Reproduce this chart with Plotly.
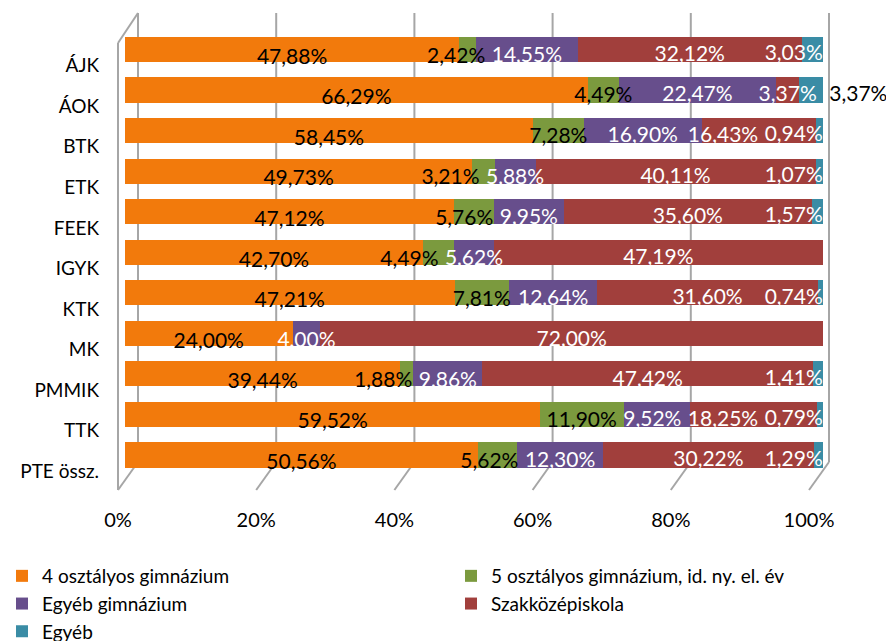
import plotly.graph_objects as go

categories = ["ÁJK", "ÁOK", "BTK", "ETK", "FEEK", "IGYK", "KTK", "MK", "PMMIK", "TTK", "PTE össz."]

gimn_4 = [47.88, 66.29, 58.45, 49.73, 47.12, 42.70, 47.21, 24.00, 39.44, 59.52, 50.56]
gimn_5 = [2.42, 4.49, 7.28, 3.21, 5.76, 4.49, 7.81, 0.00, 1.88, 11.90, 5.62]
egyeb_gimn = [14.55, 22.47, 16.90, 5.88, 9.95, 5.62, 12.64, 4.00, 9.86, 9.52, 12.30]
szakkozep = [32.12, 3.37, 16.43, 40.11, 35.60, 47.19, 31.60, 72.00, 47.42, 18.25, 30.22]
egyeb = [3.03, 3.37, 0.94, 1.07, 1.57, 0.00, 0.74, 0.00, 1.41, 0.79, 1.29]

# name, values, bar colour, label colour, legend column
series = [
    ("4 osztályos gimnázium", gimn_4, "#F27A0C", "black", "legend"),
    ("5 osztályos gimnázium, id. ny. el. év", gimn_5, "#7B9A3E", "black", "legend2"),
    ("Egyéb gimnázium", egyeb_gimn, "#674E8C", "white", "legend"),
    ("Szakközépiskola", szakkozep, "#A13F3C", "white", "legend2"),
    ("Egyéb", egyeb, "#3A8CA5", "white", "legend"),
]

FONT = "Lato"
LABEL_SIZE = 21

# page geometry in pixels (the chart imitates an Excel 3D bar chart);
# the page puts the figure 8px from the top-left corner
OFF = 8
W, H = 894, 641
L, R, T, B = 118, 838, 13, 490
BAR0, BAR100 = 125, 823          # where 0% and 100% of the bars fall
px_per_unit = (BAR100 - BAR0) / 100
row_px = 40.55                  # distance between two rows
first_row = 49.5                # centre of the first bar

x_range = [(L - BAR0) / px_per_unit, (R - BAR0) / px_per_unit]
y_range = [(B - first_row) / row_px, (T - first_row) / row_px]


def xp(px):
    return (px - L) / (R - L)


def yp(py):
    return 1 - (py - T) / (B - T)


def label_width(text):
    # rough width of a label in axis units
    px = 0.0
    for ch in text:
        if ch.isdigit():
            px += 0.58 * LABEL_SIZE
        elif ch == ",":
            px += 0.25 * LABEL_SIZE
        else:
            px += 0.8 * LABEL_SIZE
    return px / px_per_unit


rows = list(range(len(categories)))

fig = go.Figure()

for name, values, color, _, legend in series:
    fig.add_bar(
        y=rows,
        x=values,
        orientation="h",
        name=name,
        marker=dict(color=color, line=dict(width=0)),
        width=0.62,
        hoverinfo="skip",
        legend=legend,
    )

# place the data labels: centred on the segment, pushed left when they
# would run into the label on their right (Egyéb is right-aligned to the bar end)
gap = 6 / px_per_unit
label_pos = {}
for i, cat in enumerate(categories):
    starts = []
    acc = 0.0
    for _, values, _, _, _ in series:
        starts.append(acc)
        acc += values[i]
    limit = 100.0
    for s in range(len(series) - 1, -1, -1):
        v = series[s][1][i]
        if v == 0:
            continue
        text = f"{v:.2f}%".replace(".", ",")
        w = label_width(text)
        if s == len(series) - 1 and cat == "ÁOK":
            # this one sits outside the bar
            label_pos[(s, i)] = (100.9, text, "black", "middle right")
            continue
        centre = starts[s] + v / 2
        if centre + w / 2 > limit:
            centre = limit - w / 2
        label_pos[(s, i)] = (centre, text, series[s][3], "middle center")
        limit = centre - w / 2 - gap

for s, (name, values, color, text_color, _) in enumerate(series):
    xs, ys, texts, colors, positions = [], [], [], [], []
    for i in rows:
        if (s, i) not in label_pos:
            continue
        cx, text, tc, pos = label_pos[(s, i)]
        xs.append(cx)
        ys.append(i + 0.25 - 0.12 * min(cx, 100) / 100)
        texts.append(text)
        colors.append(tc)
        positions.append(pos)
    fig.add_scatter(
        x=xs,
        y=ys,
        text=texts,
        mode="text",
        textposition=positions,
        textfont=dict(family=FONT, size=LABEL_SIZE, color=colors),
        showlegend=False,
        hoverinfo="skip",
        cliponaxis=False,
    )

# 3D frame: left wall, back wall gridlines and floor lines
grid_vals = [0, 20, 40, 60, 80, 100]
back0, back_step = 138, 6.91
depth_x, back_floor = 20, 462
line_style = dict(color="#A6A6A6", width=2)
shapes = [
    dict(type="line", xref="paper", yref="paper", x0=xp(L), y0=yp(43), x1=xp(L), y1=yp(B), line=line_style),
    dict(type="line", xref="paper", yref="paper", x0=xp(L), y0=yp(43), x1=xp(L + depth_x), y1=yp(T), line=line_style),
]
for v in grid_vals:
    bx = back0 + back_step * v
    shapes.append(dict(type="line", xref="paper", yref="paper", x0=xp(bx), y0=yp(T), x1=xp(bx), y1=yp(back_floor), line=line_style))
    shapes.append(dict(type="line", xref="paper", yref="paper", x0=xp(bx), y0=yp(back_floor), x1=xp(bx - depth_x), y1=yp(B), line=line_style))
for s in shapes:
    s["layer"] = "below"

# axis labels sit on the front edge of the floor
tick_vals = [(back0 - depth_x + back_step * v - BAR0) / px_per_unit for v in grid_vals]

legend_style = dict(
    orientation="v",
    xanchor="left",
    yanchor="top",
    y=yp(557),
    font=dict(size=19),
    traceorder="normal",
    itemclick=False,
    bgcolor="rgba(0,0,0,0)",
)

fig.update_layout(
    width=W,
    height=H,
    margin=dict(l=L - OFF, r=W - (R - OFF), t=T - OFF, b=H - (B - OFF), autoexpand=False),
    paper_bgcolor="white",
    plot_bgcolor="rgba(0,0,0,0)",
    barmode="stack",
    bargap=0.38,
    font=dict(family=FONT, size=20, color="black"),
    shapes=shapes,
    xaxis=dict(
        range=x_range,
        showgrid=False,
        zeroline=False,
        showline=False,
        tickvals=tick_vals,
        ticktext=[f"{v}%" for v in grid_vals],
        ticks="",
        ticklabelstandoff=16,
        tickfont=dict(size=20),
    ),
    yaxis=dict(
        range=y_range,
        showgrid=False,
        zeroline=False,
        showline=False,
        tickvals=[r + 0.4 for r in rows],
        ticktext=categories,
        ticks="",
        ticklabelstandoff=18,
        tickfont=dict(size=19),
    ),
    legend=dict(legend_style, x=xp(2)),
    legend2=dict(legend_style, x=xp(451)),
)

fig.write_html("out.html")
